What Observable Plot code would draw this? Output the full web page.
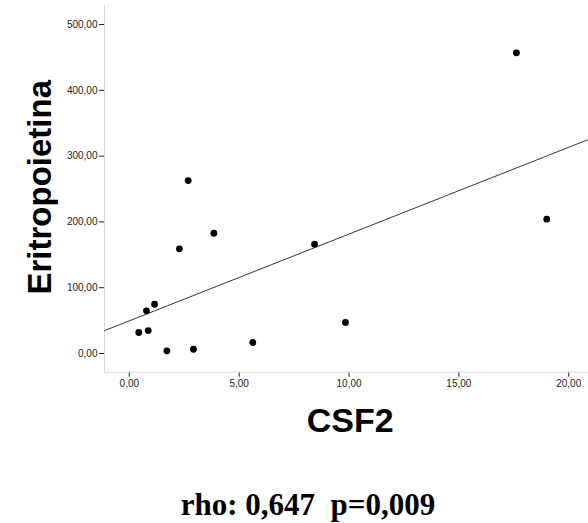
<!DOCTYPE html>
<html>
<head>
<meta charset="utf-8">
<script src="https://cdn.jsdelivr.net/npm/d3@7"></script>
<script src="https://cdn.jsdelivr.net/npm/@observablehq/plot@0.6"></script>
<style>
  html, body { margin: 0; padding: 0; background: #fff; }
  #chart svg { display: block; }
  #caption {
    width: 588px; box-sizing: border-box;
    font: bold 31px "Liberation Serif", "Times New Roman", serif;
    line-height: 31px; height: 63px; padding-top: 29px; padding-left: 28px;
    text-align: center; white-space: pre; color: #000;
  }
</style>
</head>
<body>
<div id="chart"></div>
<div id="caption"></div>
<script>
// Data
const csf2 = [2.68, 3.85, 2.28, 8.43, 1.15, 0.78, 0.43, 0.86, 1.71, 2.92, 5.62, 9.84, 17.62, 19.00];
const eritropoietina = [262.9, 182.8, 159.1, 166.1, 74.9, 64.9, 31.9, 34.9, 4.1, 6.5, 16.7, 47.1, 457.0, 204.1];
const xTicks = [0, 5, 10, 15, 20];
const yTicks = [0, 100, 200, 300, 400, 500];
const xLabel = "CSF2";
const yLabel = "Eritropoietina";
const captionText = "rho: 0,647  p=0,009";

const points = csf2.map((x, i) => ({x, y: eritropoietina[i]}));

// Least-squares fit line through the points
const mx = d3.mean(csf2), my = d3.mean(eritropoietina);
const sxy = d3.sum(points, d => (d.x - mx) * (d.y - my));
const sxx = d3.sum(points, d => (d.x - mx) ** 2);
const slope = sxy / sxx, intercept = my - slope * mx;

const xDomain = [-1.13, 20.9];
const yDomain = [-28.4, 528.9];
const fitLine = xDomain.map(x => ({x, y: intercept + slope * x}));

const locale = d3.formatLocale({decimal: ",", thousands: ".", grouping: [3], currency: ["", "€"]});
const fmt = locale.format(".2f");

const chart = Plot.plot({
  width: 588,
  height: 460,
  marginLeft: 104,
  marginRight: 0,
  marginTop: 5,
  marginBottom: 88.3,
  style: {fontFamily: "Arial, 'Liberation Sans', sans-serif", fontSize: "10px", color: "#222", background: "#fff"},
  x: {domain: xDomain, ticks: xTicks, tickFormat: fmt, tickSize: 5, tickPadding: 3, label: null},
  y: {domain: yDomain, ticks: yTicks, tickFormat: fmt, tickSize: 5, tickPadding: 2, label: null},
  marks: [
    Plot.ruleX([xDomain[0]], {stroke: "#d8d8d8"}),
    Plot.ruleY([yDomain[0]], {stroke: "#d8d8d8"}),
    Plot.line(fitLine, {x: "x", y: "y", stroke: "#333", strokeWidth: 1, clip: true}),
    Plot.dot(points, {x: "x", y: "y", r: 3.4, fill: "#000", stroke: "none"}),
    Plot.text([xLabel], {text: d => d, frameAnchor: "bottom", textAnchor: "middle", lineAnchor: "bottom", dy: 59.3, dx: 3.7,
      fontSize: 34, fontWeight: "bold", fill: "#000"}),
    Plot.text([yLabel], {text: d => d, frameAnchor: "left", textAnchor: "middle", lineAnchor: "bottom", rotate: -90, dx: -54, dy: -1.6,
      fontSize: 33, fontWeight: "bold", fill: "#000"})
  ]
});
document.getElementById("chart").appendChild(chart);
document.getElementById("caption").textContent = captionText;
</script>
</body>
</html>
